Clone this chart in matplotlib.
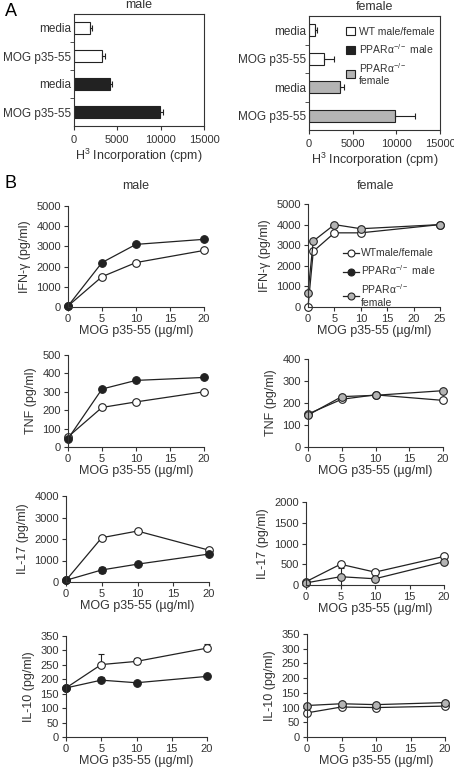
import numpy as np
import matplotlib
matplotlib.use('Agg')
import matplotlib.pyplot as plt
from matplotlib.patches import Patch
from matplotlib.lines import Line2D

plt.rcParams['font.family'] = ['Liberation Sans', 'DejaVu Sans']
plt.rcParams['mathtext.fontset'] = 'custom'
plt.rcParams['mathtext.rm'] = 'Liberation Sans'
plt.rcParams['mathtext.it'] = 'Liberation Sans:italic'
plt.rcParams['mathtext.default'] = 'regular'

TXT = '#333333'
DARK = '#222222'
GREY = '#b4b4b4'

# ---- panel A: H3 incorporation ----
bar_labels = ['media', 'MOG p35-55', 'media', 'MOG p35-55']
male_cpm = [1850, 3200, 4150, 9900]
male_err = [200, 350, 250, 350]
female_cpm = [700, 1700, 3500, 9900]
female_err = [200, 1150, 550, 2200]
cpm_ticks = [0, 5000, 10000, 15000]

# ---- panel B: cytokines ----
dose = [0, 5, 10, 20]
dose_ifn_f = [0, 1, 5, 10, 25]

ifn_m_wt = [50, 1500, 2200, 2800]
ifn_m_ko = [50, 2200, 3100, 3350]
ifn_f_wt = [0, 2700, 3600, 3600, 4000]
ifn_f_ko = [700, 3200, 4000, 3800, 4000]

tnf_m_wt = [55, 215, 245, 300]
tnf_m_ko = [45, 315, 362, 378]
tnf_f_wt = [150, 217, 237, 212]
tnf_f_ko = [145, 229, 235, 256]

il17_m_wt = [80, 2060, 2370, 1480]
il17_m_ko = [80, 560, 830, 1300]
il17_m_ko_err = [0, 120, 0, 0]
il17_f_wt = [80, 500, 310, 690]
il17_f_ko = [50, 200, 150, 560]
il17_f_ko_err = [0, 200, 0, 0]

il10_m_wt = [170, 251, 262, 308]
il10_m_wt_err = [0, 35, 12, 15]
il10_m_ko = [170, 197, 188, 210]
il10_m_ko_err = [0, 10, 0, 0]
il10_f_wt = [82, 102, 100, 105]
il10_f_ko = [107, 113, 110, 117]

W, H = 454, 771
fig = plt.figure(figsize=(W / 100, H / 100), dpi=100)


def rect(l, t, r, b):
    return [l / W, 1 - b / H, (r - l) / W, (b - t) / H]


def bar_panel(box, vals, errs, colors, title):
    ax = fig.add_axes(rect(*box))
    y = np.arange(len(vals))
    ax.barh(y, vals, height=0.42, color=colors, edgecolor=DARK, linewidth=0.8,
            xerr=[np.zeros(len(errs)), errs],
            error_kw=dict(ecolor=DARK, elinewidth=0.8, capsize=2, capthick=0.8))
    ax.set_ylim(len(vals) - 0.5, -0.5)
    ax.set_xlim(0, 15000)
    ax.set_xticks(cpm_ticks)
    ax.set_yticks(y)
    ax.set_yticklabels(bar_labels, fontsize=8.5, color=TXT)
    ax.set_yticks(y[:-1] + 0.5, minor=True)
    ax.tick_params(axis='y', which='major', length=0, pad=2)
    ax.tick_params(axis='y', which='minor', length=3, color=TXT)
    ax.tick_params(axis='x', labelsize=8, length=3, color=TXT, labelcolor=TXT)
    ax.set_xlabel(r'H$^3$ Incorporation (cpm)', fontsize=9, color=TXT, labelpad=1)
    ax.set_title(title, fontsize=9, color=TXT, pad=4)
    for s in ax.spines.values():
        s.set_color(TXT)
        s.set_linewidth(0.8)
    return ax


bar_panel((74, 14, 204, 126), male_cpm, male_err,
          ['white', 'white', DARK, DARK], 'male')
axf = bar_panel((309, 16, 440, 130), female_cpm, female_err,
                ['white', 'white', GREY, GREY], 'female')
bar_handles = [Patch(facecolor='white', edgecolor=DARK, linewidth=0.8),
               Patch(facecolor=DARK, edgecolor=DARK, linewidth=0.8),
               Patch(facecolor=GREY, edgecolor=DARK, linewidth=0.8)]
axf.legend(bar_handles, ['WT male/female', r'PPARα$^{-/-}$ male',
                         'PPARα$^{-/-}$\nfemale'],
           loc='upper right', bbox_to_anchor=(1.03, 0.99), frameon=False,
           fontsize=7.5, handlelength=0.8, handleheight=0.8, handletextpad=0.4,
           labelspacing=0.5, labelcolor=TXT)

fig.text(5 / W, 1 - 12 / H, 'A', fontsize=13, va='center', ha='left')
fig.text(5 / W, 1 - 184 / H, 'B', fontsize=13, va='center', ha='left')
fig.text(136 / W, 1 - 186 / H, 'male', fontsize=9, color=TXT, ha='center', va='center')
fig.text(375 / W, 1 - 186 / H, 'female', fontsize=9, color=TXT, ha='center', va='center')


def line_panel(box, xs, series, ymax, ystep, ylabel, xmax, xstep):
    ax = fig.add_axes(rect(*box))
    for vals, errs, face in series:
        ax.errorbar(xs, vals, yerr=errs, color=DARK, linewidth=0.9,
                    marker='o', markersize=5.5, markerfacecolor=face,
                    markeredgecolor=DARK, markeredgewidth=0.8,
                    ecolor=DARK, elinewidth=0.8, capsize=2, clip_on=False)
    ax.set_xlim(0, xmax)
    ax.set_ylim(0, ymax)
    ax.set_xticks(np.arange(0, xmax + 1, xstep))
    ax.set_yticks(np.arange(0, ymax + 1, ystep))
    ax.spines['top'].set_visible(False)
    ax.spines['right'].set_visible(False)
    for s in ('left', 'bottom'):
        ax.spines[s].set_color(TXT)
        ax.spines[s].set_linewidth(0.8)
    ax.tick_params(labelsize=8, length=3, color=TXT, labelcolor=TXT, pad=2)
    ax.set_ylabel(ylabel, fontsize=9, color=TXT, labelpad=4)
    ax.set_xlabel('MOG p35-55 (µg/ml)', fontsize=9, color=TXT, labelpad=1)
    return ax


line_panel((68, 206, 204, 307), dose,
           [(ifn_m_wt, None, 'white'), (ifn_m_ko, None, DARK)],
           5000, 1000, 'IFN-γ (pg/ml)', 20, 5)
axi = line_panel((308, 204, 440, 307), dose_ifn_f,
                 [(ifn_f_wt, None, 'white'), (ifn_f_ko, None, GREY)],
                 5000, 1000, 'IFN-γ (pg/ml)', 25, 5)
line_handles = [Line2D([], [], color=DARK, lw=0.9, marker='o', ms=5,
                       mfc=f, mec=DARK, mew=0.8) for f in ('white', DARK, GREY)]
axi.legend(line_handles, ['WTmale/female', r'PPARα$^{-/-}$ male',
                          'PPARα$^{-/-}$\nfemale'],
           loc='lower right', bbox_to_anchor=(1.04, -0.1), frameon=False,
           fontsize=7.5, handlelength=1.6, handletextpad=0.2,
           labelspacing=0.5, labelcolor=TXT)

line_panel((68, 355, 204, 447), dose,
           [(tnf_m_wt, None, 'white'), (tnf_m_ko, None, DARK)],
           500, 100, 'TNF (pg/ml)', 20, 5)
line_panel((308, 359, 443, 447), dose,
           [(tnf_f_wt, None, 'white'), (tnf_f_ko, None, GREY)],
           400, 100, 'TNF (pg/ml)', 20, 5)

line_panel((66, 496, 209, 582), dose,
           [(il17_m_wt, None, 'white'), (il17_m_ko, il17_m_ko_err, DARK)],
           4000, 1000, 'IL-17 (pg/ml)', 20, 5)
line_panel((306, 502, 444, 585), dose,
           [(il17_f_wt, None, 'white'), (il17_f_ko, il17_f_ko_err, GREY)],
           2000, 500, 'IL-17 (pg/ml)', 20, 5)

line_panel((66, 636, 207, 737), dose,
           [(il10_m_wt, [np.zeros(4), il10_m_wt_err], 'white'),
            (il10_m_ko, [np.zeros(4), il10_m_ko_err], DARK)],
           350, 50, 'IL-10 (pg/ml)', 20, 5)
line_panel((307, 634, 445, 737), dose,
           [(il10_f_wt, None, 'white'), (il10_f_ko, None, GREY)],
           350, 50, 'IL-10 (pg/ml)', 20, 5)

fig.savefig('out.png', dpi=100)
